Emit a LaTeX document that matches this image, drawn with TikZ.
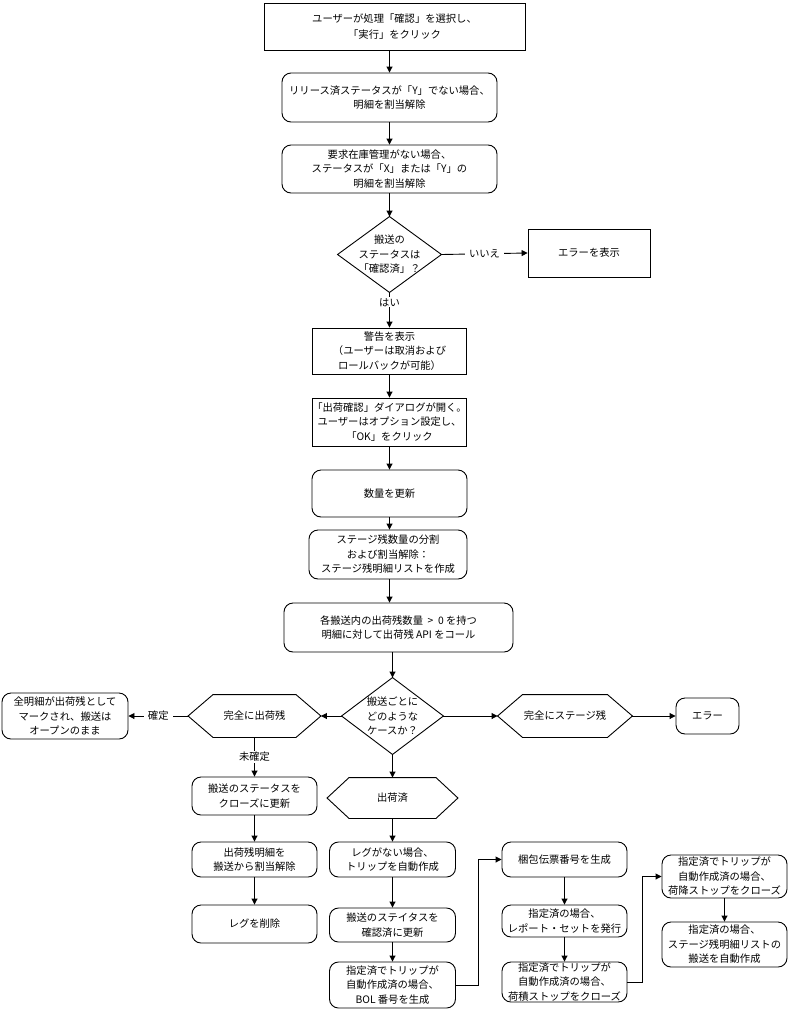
\documentclass[tikz,border=0pt]{standalone}
\usepackage{fontspec}
\setmainfont{Noto Sans CJK JP}
\usetikzlibrary{arrows.meta}
\newcommand\hexdraw[2]{\draw (#1.west) -- ([xshift=#2bp]#1.north west) -- ([xshift=-#2bp]#1.north east) -- (#1.east) -- ([xshift=-#2bp]#1.south east) -- ([xshift=#2bp]#1.south west) -- cycle;}
\newcommand\diadraw[1]{\draw (#1.north) -- (#1.east) -- (#1.south) -- (#1.west) -- cycle;}
\begin{document}
\begin{tikzpicture}[x=1bp,y=-1bp,line width=0.9bp,
  every node/.style={font=\fontsize{10.3bp}{14.5bp}\selectfont, align=center, inner sep=0pt},
  sz/.style 2 args={minimum width=#1bp, minimum height=#2bp},
  rbox/.style={draw, rounded corners=9bp},
  sbox/.style={draw},
  shp/.style={draw=none},
  arr/.style={-{Triangle[length=6bp,width=6bp]}},
  lbl/.style={fill=white, inner xsep=4bp, inner ysep=1bp}]
\useasboundingbox (0,0) rectangle (789,1009);

% top column
\node[sbox, sz={261}{47}, font=\fontsize{10.3bp}{16bp}\selectfont] (b1) at (394.5,26.5) {ユーザーが処理「確認」を選択し、\\「実行」をクリック};
\node[rbox, sz={215}{49}] (b2) at (389.5,97.5) {リリース済ステータスが「Y」でない場合、\\明細を割当解除};
\node[rbox, sz={215}{48}] (b3) at (389.5,169) {要求在庫管理がない場合、\\ステータスが「X」または「Y」の\\明細を割当解除};
\node[shp, sz={103}{75}] (d1) at (389.5,254.5) {搬送の\\ステータスは\\「確認済」？};
\diadraw{d1}
\node[sbox, sz={122}{48}] (e1) at (589,253) {エラーを表示};
\node[sbox, sz={154}{46}] (warn) at (389.5,351) {警告を表示\\（ユーザーは取消および\\ロールバックが可能）};
\node[sbox, sz={154}{48}] (dlg) at (389.5,422) {「出荷確認」ダイアログが開く。\\ユーザーはオプション設定し、\\「OK」をクリック};
\node[rbox, sz={155}{47}] (qty) at (389.5,493.5) {数量を更新};
\node[rbox, sz={158}{49}] (split) at (388,554.5) {ステージ残数量の分割\\および割当解除：\\ステージ残明細リストを作成};
\node[rbox, sz={229}{49}] (api) at (398.5,627.5) {各搬送内の出荷残数量 \ > \ 0 を持つ\\明細に対して出荷残 API をコール};
\node[shp, sz={101}{76}] (d2) at (392.5,716) {搬送ごとに\\どのような\\ケースか？};
\diadraw{d2}

% case row
\node[shp, sz={132}{42}] (hl) at (254.5,716) {完全に出荷残};
\hexdraw{hl}{25}
\node[rbox, sz={126}{46}] (all) at (65,716) {全明細が出荷残として\\マークされ、搬送は\\オープンのまま};
\node[shp, sz={134}{42}] (hr) at (565,716) {完全にステージ残};
\hexdraw{hr}{25}
\node[rbox, sz={63}{36}] (e2) at (707.5,716) {エラー};
\node[shp, sz={130}{40}] (hs) at (392.5,798) {出荷済};
\hexdraw{hs}{22}

% left column
\node[rbox, sz={125}{38}] (close) at (254.5,796) {搬送のステータスを\\クローズに更新};
\node[rbox, sz={125}{35}] (unas) at (254.5,859.5) {出荷残明細を\\搬送から割当解除};
\node[rbox, sz={125}{38}] (dleg) at (254.5,924) {レグを削除};

% middle column
\node[rbox, sz={126}{35}] (trip) at (392.5,859.5) {レグがない場合、\\トリップを自動作成};
\node[rbox, sz={126}{34}] (stat) at (392.5,925) {搬送のステイタスを\\確認済に更新};
\node[rbox, sz={126}{46}] (bol) at (392.5,985) {指定済でトリップが\\自動作成済の場合、\\BOL 番号を生成};

% third column
\node[rbox, sz={125}{35}] (pack) at (564.5,859.5) {梱包伝票番号を生成};
\node[rbox, sz={125}{32}] (rep) at (564.5,921) {指定済の場合、\\レポート・セットを発行};
\node[rbox, sz={125}{40}] (load) at (564.5,982) {指定済でトリップが\\自動作成済の場合、\\荷積ストップをクローズ};

% fourth column
\node[rbox, sz={125}{43}] (unl) at (724.5,876.5) {指定済でトリップが\\自動作成済の場合、\\荷降ストップをクローズ};
\node[rbox, sz={125}{45}] (auto) at (724.5,944.5) {指定済の場合、\\ステージ残明細リストの\\搬送を自動作成};

% connectors
\draw[arr] (b2.north |- b1.south) -- (b2.north);
\draw[arr] (b2.south) -- (b3.north);
\draw[arr] (b3.south) -- (d1.north);
\draw[arr] (d1.east) -- node[lbl]{いいえ} (e1.west);
\draw[arr] (d1.south) -- node[lbl, pos=0.28]{はい} (warn.north);
\draw[arr] (warn.south) -- (dlg.north);
\draw[arr] (dlg.south) -- (qty.north);
\draw[arr] (qty.south) -- (qty.south |- split.north);
\draw[arr] (qty.south |- split.south) -- (qty.south |- api.north);
\draw[arr] (d2.north |- api.south) -- (d2.north);
\draw[arr] (d2.west) -- (hl.east);
\draw[arr] (d2.east) -- (hr.west);
\draw[arr] (hr.east) -- (e2.west);
\draw[arr] (d2.south) -- (hs.north);
\draw[arr] (hl.west) -- node[lbl]{確定} (all.east);
\draw[arr] (hl.south) -- node[lbl]{未確定} (close.north);
\draw[arr] (close.south) -- (unas.north);
\draw[arr] (unas.south) -- (dleg.north);
\draw[arr] (hs.south) -- (trip.north);
\draw[arr] (trip.south) -- (stat.north);
\draw[arr] (stat.south) -- (bol.north);
\draw[arr] (bol.east) -- ++(22,0) |- (pack.west);
\draw[arr] (pack.south) -- (rep.north);
\draw[arr] (rep.south) -- (load.north);
\draw[arr] (load.east) -- ++(15,0) |- (unl.west);
\draw[arr] (unl.south) -- (auto.north);
\end{tikzpicture}
\end{document}
